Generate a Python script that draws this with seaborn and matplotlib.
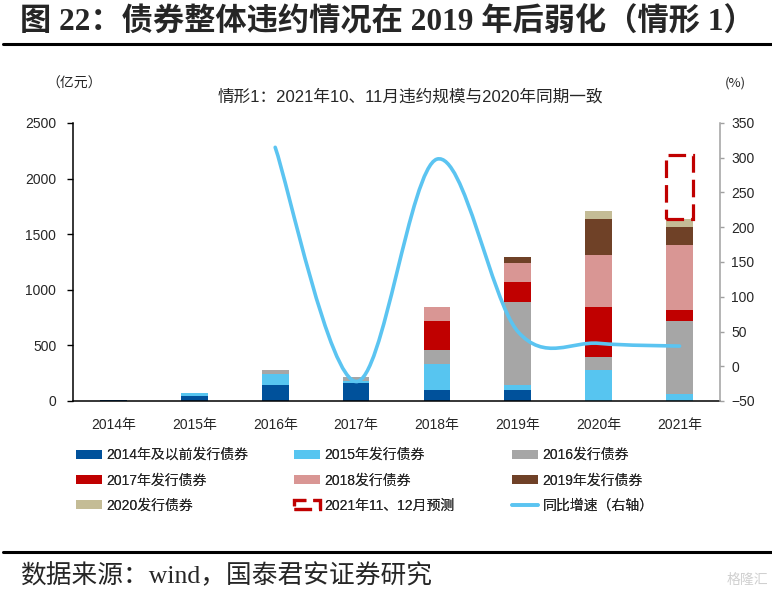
import numpy as np
import pandas as pd
import matplotlib
matplotlib.use('Agg')
import matplotlib.pyplot as plt
import seaborn as sns
from matplotlib.patches import Patch, PathPatch
from matplotlib.lines import Line2D
from matplotlib.path import Path
from matplotlib import font_manager

# ---------------- data ----------------
years = ['2014年', '2015年', '2016年', '2017年', '2018年', '2019年', '2020年', '2021年']
issued_2014_before = [12, 45, 145, 162, 102, 102, 0, 0]
issued_2015 = [0, 25, 102, 20, 234, 45, 280, 63]
issued_2016 = [0, 0, 30, 35, 120, 745, 118, 657]
issued_2017 = [0, 0, 0, 0, 261, 181, 445, 99]
issued_2018 = [0, 0, 0, 0, 126, 167, 470, 587]
issued_2019 = [0, 0, 0, 0, 0, 54, 324, 156]
issued_2020 = [0, 0, 0, 0, 0, 0, 75, 78]
forecast_2021 = [0, 0, 0, 0, 0, 0, 0, 570]
yoy = [np.nan, np.nan, 315, -22, 298, 50, 33, 29]

series_labels = ['2014年及以前发行债券', '2015年发行债券', '2016发行债券', '2017年发行债券',
                 '2018发行债券', '2019年发行债券', '2020发行债券']
forecast_label = '2021年11、12月预测'
line_label = '同比增速（右轴）'
series_colors = ['#00519B', '#57C5F0', '#A6A6A6', '#C00000', '#D99694', '#6F4127', '#C4BC96']
forecast_color = '#C00000'
line_color = '#5BC4F1'

title = '图 22：债券整体违约情况在 2019 年后弱化（情形 1）'
subtitle = '情形1：2021年10、11月违约规模与2020年同期一致'
left_unit = '（亿元）'
right_unit = '(%)'
source = '数据来源：wind，国泰君安证券研究'

# ---------------- style ----------------
sns.set_theme(style='white')
names = {f.name for f in font_manager.fontManager.ttflist}
narrow = 'Liberation Sans Narrow' if 'Liberation Sans Narrow' in names else 'Liberation Sans'
cjk = 'Noto Sans CJK SC'
plt.rcParams['font.family'] = ['Liberation Sans', cjk, 'DejaVu Sans']
plt.rcParams['axes.unicode_minus'] = True

W, H = 772, 605
fig = plt.figure(figsize=(W / 100, H / 100), dpi=100)
fig.patch.set_facecolor('white')

def fx(px):
    return px / W

def fy(py):
    return 1 - py / H

ax = fig.add_axes([fx(73), fy(401), fx(720) - fx(73), fy(123) - fy(401)])
ax.set_facecolor('white')

# stacked bars via overlaid cumulative bars (seaborn)
layers = [issued_2014_before, issued_2015, issued_2016, issued_2017,
          issued_2018, issued_2019, issued_2020]
cum = np.cumsum(np.array(layers, dtype=float), axis=0)
for i in range(len(layers) - 1, -1, -1):
    df = pd.DataFrame({'year': years, 'value': cum[i]})
    sns.barplot(data=df, x='year', y='value', order=years, color=series_colors[i],
                saturation=1, width=0.33, errorbar=None, ax=ax, linewidth=0)

totals = cum[-1]
xpos = np.arange(len(years))
fc = np.array(forecast_2021, dtype=float)
mask = fc > 0
ax.bar(xpos[mask], fc[mask], bottom=totals[mask], width=0.33, fill=False,
       edgecolor=forecast_color, linewidth=2.3, linestyle=(0, (5.5, 2.2)))

ax.set_xlim(-0.5, len(years) - 0.5)
ax.set_ylim(0, 2500)
ax.set_yticks(np.arange(0, 2501, 500))
ax.set_xticks(np.arange(-0.5, len(years), 1.0))
ax.set_xticklabels([])
ax.set_xticks(xpos, minor=True)
ax.set_xticklabels(years, minor=True, fontsize=10, family=[narrow, cjk])
ax.tick_params(axis='x', which='major', direction='out', length=4, width=1, color='black')
ax.tick_params(axis='x', which='minor', length=0, pad=12)
ax.tick_params(axis='y', direction='out', length=4, width=1, color='black',
               labelsize=10, pad=8)
ax.set_xlabel('')
ax.set_ylabel('')
for s in ['top', 'right']:
    ax.spines[s].set_visible(False)
for s in ['left', 'bottom']:
    ax.spines[s].set_color('black')
    ax.spines[s].set_linewidth(1.1)

# right axis with smoothed line
ax2 = ax.twinx()
ax2.set_ylim(-50, 350)
ax2.set_yticks(np.arange(-50, 351, 50))
ax2.tick_params(axis='y', direction='out', length=3, width=1, color='#A0A0A0',
                labelsize=10, pad=5)
for s in ['top', 'left', 'bottom']:
    ax2.spines[s].set_visible(False)
ax2.spines['right'].set_color('#A0A0A0')
ax2.spines['right'].set_linewidth(1.1)
ax2.grid(False)
ax.grid(False)

yv = np.array(yoy, dtype=float)
ok = ~np.isnan(yv)
pts = np.column_stack([xpos[ok].astype(float), yv[ok]])
verts = [pts[0]]
codes = [Path.MOVETO]
n = len(pts)
for i in range(n - 1):
    p0 = pts[i - 1] if i > 0 else pts[i]
    p1 = pts[i]
    p2 = pts[i + 1]
    p3 = pts[i + 2] if i + 2 < n else pts[i + 1]
    verts += [p1 + (p2 - p0) / 6, p2 - (p3 - p1) / 6, p2]
    codes += [Path.CURVE4] * 3
ax2.add_patch(PathPatch(Path(verts, codes), fill=False, edgecolor=line_color,
                        linewidth=2.6, capstyle='round', joinstyle='round'))

# ---------------- legend (3 columns, row-major) ----------------
handles = [Patch(facecolor=c, edgecolor='none') for c in series_colors]
handles.append(Patch(facecolor='none', edgecolor=forecast_color, linewidth=2.3,
                     linestyle=(0, (5.5, 2.2))))
handles.append(Line2D([0], [0], color=line_color, linewidth=2.6))
labels = series_labels + [forecast_label, line_label]
col_x = [76, 294, 512]
for c in range(3):
    idx = [c, c + 3, c + 6]
    leg = fig.legend([handles[k] for k in idx], [labels[k] for k in idx],
                     loc='upper left', bbox_to_anchor=(fx(col_x[c]), fy(448)),
                     frameon=False, handlelength=1.9, handleheight=0.6,
                     handletextpad=0.3, labelspacing=0.82, borderaxespad=0,
                     borderpad=0, prop={'family': [narrow, cjk], 'size': 10})
    fig.add_artist(leg)

# ---------------- texts & rules ----------------
fig.text(fx(20), fy(22), title, fontsize=22.5, fontweight='bold',
         family=['Liberation Serif', cjk], va='center', ha='left')
fig.add_artist(Line2D([fx(3), 1], [fy(44), fy(44)], color='black', linewidth=2.2))
fig.text(fx(74), fy(84), left_unit, fontsize=10, family=[cjk], va='center', ha='center')
fig.text(fx(735), fy(83), right_unit, fontsize=9.5, family=[cjk], va='center', ha='center')
fig.text(fx(410), fy(97), subtitle, fontsize=12, family=[narrow, cjk],
         va='center', ha='center')
fig.add_artist(Line2D([fx(3), 1], [fy(552), fy(552)], color='black', linewidth=2.2))
fig.text(fx(20), fy(576), source, fontsize=18.5, family=['Liberation Serif', cjk],
         va='center', ha='left')
fig.text(fx(768), fy(580), '格隆汇', fontsize=10, family=[cjk], color='#D0D0D0',
         va='center', ha='right')

fig.savefig('out.png', dpi=100, facecolor='white')
